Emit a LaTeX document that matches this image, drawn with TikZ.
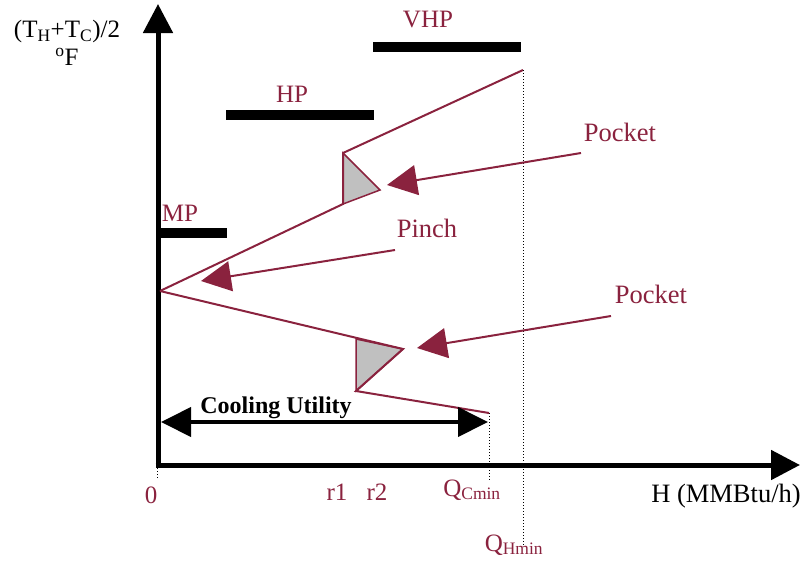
\documentclass[tikz,border=0pt]{standalone}
\usepackage{fontspec}
\setmainfont{Liberation Serif}
\usetikzlibrary{arrows.meta}
\definecolor{dred}{RGB}{138,34,62}
\definecolor{pgray}{RGB}{192,192,192}
\tikzset{
  axis/.style={line width=5pt, -{Triangle[length=29pt,width=29pt]}},
  bar/.style={line width=10pt},
  comp/.style={dred, line width=2pt, line join=miter},
  pocketfill/.style={fill=pgray, draw=dred, line width=1.5pt},
  pointer/.style={dred, line width=2pt, -{Triangle[length=30pt,width=30pt]}},
  guide/.style={line width=1pt, dotted},
  lbl/.style={dred, font=\fontsize{25}{28}\selectfont, inner sep=0pt},
  plbl/.style={dred, font=\fontsize{26.5}{30}\selectfont, inner sep=0pt},
  blbl/.style={black, font=\fontsize{25}{28}\selectfont, inner sep=0pt},
}
\begin{document}
\begin{tikzpicture}[x=1pt,y=-1pt]
\useasboundingbox (0,0) rectangle (804,563);
% axes
\coordinate (O) at (158,465);
\coordinate (Ytop) at (158,4);
\coordinate (Xend) at (800,465);
\draw[axis] (158,467.5) -- (Ytop);
\draw[axis] (155.5,465) -- (Xend);
% bars
\coordinate (vhpA) at (373,47); \coordinate (vhpB) at (521,47);
\coordinate (hpA) at (226,115); \coordinate (hpB) at (374,115);
\coordinate (mpA) at (156,233); \coordinate (mpB) at (227,233);
\draw[bar] (vhpA) -- (vhpB);
\draw[bar] (hpA) -- (hpB);
\draw[bar] (mpA) -- (mpB);
\node[lbl] (vhp) at (428,20) {VHP};
\node[lbl] (hp) at (292,94) {HP};
\node[lbl] (mp) at (180,213) {MP};
% y-axis label
\node[blbl, align=center] (ylab) at (67,43) {(T\textsubscript{H}+T\textsubscript{C})/2\\\textsuperscript{o}F};
% composite curve points
\coordinate (P0) at (160,291);
\coordinate (A1) at (343,204);
\coordinate (A2) at (343,153);
\coordinate (A3) at (523,70);
\coordinate (Ar) at (380,190);
\coordinate (B0) at (356,339);
\coordinate (B1) at (403,349);
\coordinate (B2) at (356,391);
\coordinate (B3) at (489,413);
% pockets
\filldraw[pocketfill] (A2) -- (Ar) -- (A1) -- cycle;
\filldraw[pocketfill] (B0) -- (B1) -- (B2) -- cycle;
\draw[comp] (P0) -- (A1) -- (A2) -- (A3);
\draw[comp] (P0) -- (B1) -- (B2) -- (B3);
% guides
\coordinate (g0a) at (157,465); \coordinate (g0b) at (157,478);
\coordinate (gCa) at (489,413); \coordinate (gCb) at (489,480);
\coordinate (gHa) at (523,70); \coordinate (gHb) at (523,547);
\draw[guide] (g0a) -- (g0b);
\draw[guide] (gCa) -- (gCb);
\draw[guide] (gHa) -- (gHb);
% cooling utility
\coordinate (cuL) at (161,422);
\coordinate (cuR) at (488,422);
\draw[line width=4pt, {Triangle[length=30pt,width=29pt]}-{Triangle[length=30pt,width=29pt]}] (cuL) -- (cuR);
\node[font=\bfseries\fontsize{24}{28}\selectfont, inner sep=0pt] (cu) at (276,408) {Cooling Utility};
% pointers
\node[plbl] (pk1) at (620,132) {Pocket};
\node[plbl] (pk2) at (651,294) {Pocket};
\node[plbl] (pinch) at (427,228) {Pinch};
\coordinate (pk1s) at (581,153); \coordinate (pk1t) at (387,185);
\coordinate (pk2s) at (611,316); \coordinate (pk2t) at (417,348);
\coordinate (pis) at (395,250); \coordinate (pit) at (201,281);
\draw[pointer] (pk1s) -- (pk1t);
\draw[pointer] (pk2s) -- (pk2t);
\draw[pointer] (pis) -- (pit);
% axis labels
\node[lbl] (l0) at (151,495) {0};
\node[lbl] (lr1) at (337,492) {r1};
\node[lbl] (lr2) at (377,492) {r2};
\node[lbl] (lqc) at (472,490) {Q\textsubscript{Cmin}};
\node[lbl] (lqh) at (514,545) {Q\textsubscript{Hmin}};
\node[blbl, font=\fontsize{26.5}{30}\selectfont] (lx) at (726,496) {H (MMBtu/h)};
\end{tikzpicture}
\end{document}
